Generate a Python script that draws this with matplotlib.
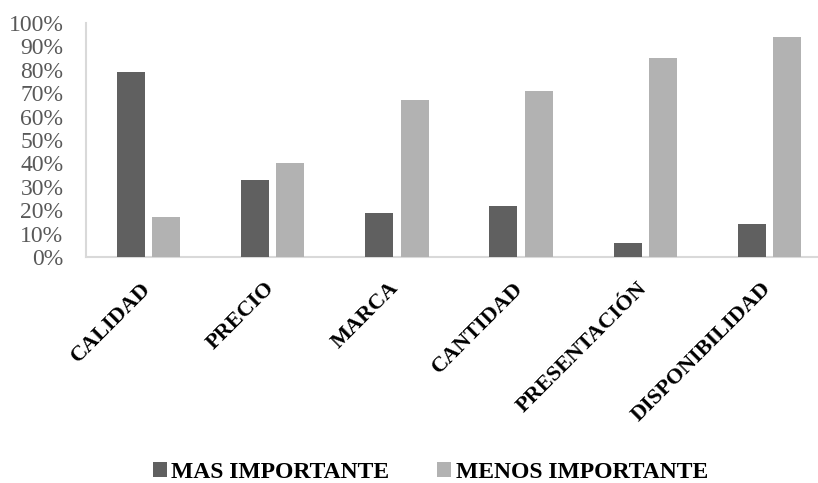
import matplotlib
matplotlib.use("Agg")
import matplotlib.pyplot as plt
import matplotlib.transforms as mtransforms
import numpy as np
from matplotlib.ticker import PercentFormatter
from matplotlib.font_manager import FontProperties

categories = ["CALIDAD", "PRECIO", "MARCA", "CANTIDAD", "PRESENTACIÓN", "DISPONIBILIDAD"]
mas_importante = [0.79, 0.33, 0.19, 0.22, 0.06, 0.14]
menos_importante = [0.17, 0.40, 0.67, 0.71, 0.85, 0.94]
series_names = ["MAS IMPORTANTE", "MENOS IMPORTANTE"]
yticks = [0, 0.1, 0.2, 0.3, 0.4, 0.5, 0.6, 0.7, 0.8, 0.9, 1.0]

dark = "#606060"
light = "#b2b2b2"
grid_col = "#d9d9d9"
fam = ["Liberation Serif", "DejaVu Serif"]

plt.rcParams["font.family"] = fam

fig = plt.figure(figsize=(8.18, 4.83), dpi=100)
ax = fig.add_axes([86.4 / 818, 1 - 257 / 483, (831.6 - 86.4) / 818, (257 - 23) / 483])

x = np.arange(len(categories))
w = 0.225
off = 0.143
ax.bar(x - off, mas_importante, width=w, color=dark, label=series_names[0], zorder=3)
ax.bar(x + off, menos_importante, width=w, color=light, label=series_names[1], zorder=3)

ax.set_xlim(-0.5, len(categories) - 0.5)
ax.set_ylim(0, 1.0)
ax.set_yticks(yticks)
ax.yaxis.set_major_formatter(PercentFormatter(1.0, decimals=0))
ax.tick_params(axis="y", length=0, labelsize=17, labelcolor="#595959", pad=16.5)
ax.tick_params(axis="x", length=0, pad=20.5)
ax.set_xticks(x)
ax.set_xticklabels(categories, rotation=45, ha="right", va="center", rotation_mode="anchor",
                   fontproperties=FontProperties(family=fam, size=16, weight="bold"),
                   color="black")
shift = mtransforms.ScaledTranslation(-1 / 100, 0, fig.dpi_scale_trans)
for lbl in ax.get_xticklabels():
    lbl.set_transform(lbl.get_transform() + shift)

for s in ["top", "right"]:
    ax.spines[s].set_visible(False)
for s in ["left", "bottom"]:
    ax.spines[s].set_color(grid_col)
    ax.spines[s].set_linewidth(1.5)

fig.legend(loc="center", bbox_to_anchor=(0.526, 1 - 472 / 483), ncol=2, frameon=False,
           prop=FontProperties(family=fam, size=17, weight="bold"),
           handlelength=0.6, handleheight=0.6,
           handletextpad=0.2, columnspacing=2.0)

fig.savefig("out.png", dpi=100)
